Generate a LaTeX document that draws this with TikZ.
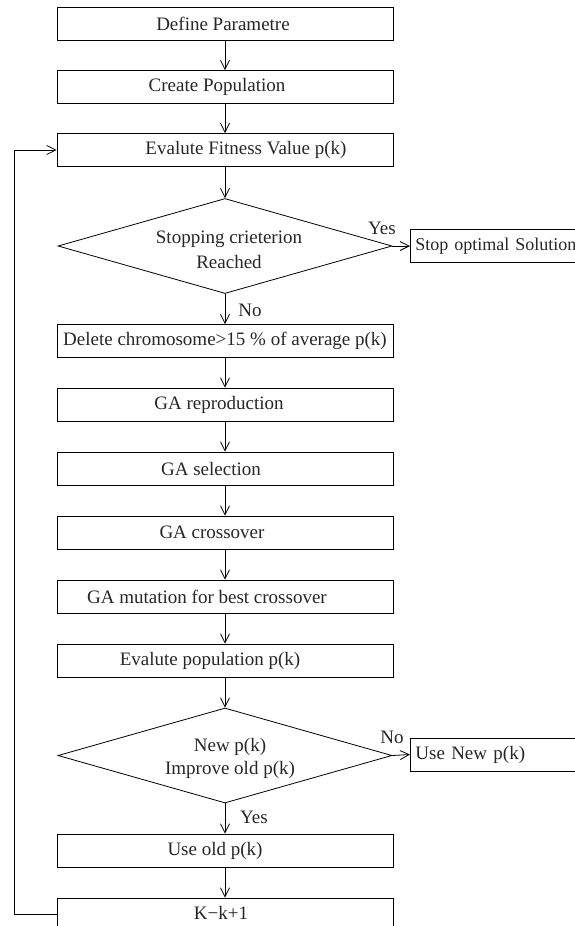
\documentclass[tikz,border=0pt]{standalone}
\usepackage{fontspec}
\setmainfont{Liberation Serif}
\usetikzlibrary{arrows.meta,shapes.geometric}

\tikzset{
  every node/.style={font=\fontsize{19}{25}\selectfont, text=black!85},
  box/.style={draw, line width=0.8pt, minimum width=336pt, minimum height=33pt, inner sep=0pt},
  sidebox/.style={draw, line width=0.8pt, anchor=west, minimum height=33pt, text width=180pt,
                  inner xsep=5pt, inner ysep=0pt, align=left},
  decision/.style={draw, diamond, line width=0.8pt, minimum width=334pt, minimum height=95pt, inner sep=0pt},
  txt/.style={inner sep=0pt},
  lbl/.style={inner sep=0pt},
  arr/.style={draw, line width=0.8pt, -{Straight Barb[length=9pt,width=9pt,line width=0.8pt]}},
}

\begin{document}
\begin{tikzpicture}[x=1pt, y=-1pt]
\useasboundingbox (0,0) rectangle (575,926);

% main column of process steps
\node[box, label={[txt,xshift=-2pt]center:Define Parametre}] (define) at (225,23.5) {};
\node[box, label={[txt,xshift=-8pt]center:Create Population}] (create) at (225,87) {};
\node[box, label={[txt,xshift=21pt]center:Evalute Fitness Value p(k)}] (evalfit) at (225,150) {};

\node[decision, label={[txt,align=center,xshift=4pt,yshift=-3.5pt]center:Stopping crieterion\\Reached}] (dia1) at (225,246) {};
\node[sidebox, font=\fontsize{18}{22}\selectfont] (stop) at (410,246) {Stop optimal Solution};

\node[box, label={[txt]center:Delete chromosome>15 \% of average p(k)}] (delete) at (225,341) {};
\node[box, label={[txt,xshift=-6pt]center:GA reproduction}] (repro) at (225,404.5) {};
\node[box, label={[txt,xshift=-14pt]center:GA selection}] (select) at (225,468.5) {};
\node[box, label={[txt,xshift=-13pt]center:GA crossover}] (cross) at (225,532.5) {};
\node[box, label={[txt,xshift=-18pt]center:GA mutation for best crossover}] (mutate) at (225,596.5) {};
\node[box, label={[txt,xshift=-15pt]center:Evalute population p(k)}] (evalpop) at (225,660.5) {};

\node[decision, label={[txt,align=center,xshift=5pt,yshift=-3pt,font=\fontsize{19}{23}\selectfont]center:New p(k)\\Improve old p(k)}] (dia2) at (225,755.5) {};
\node[sidebox] (usenew) at (410,754.5) {Use New p(k)};

\node[box, label={[txt,xshift=-10pt]center:Use old p(k)}] (useold) at (225,850.5) {};
\node[box, label={[txt,xshift=-4pt,yshift=2pt]center:K−k+1}] (kstep) at (225,914.5) {};

% branch labels
\node[lbl] (yes1) at (382,228) {Yes};
\node[lbl] (no1) at (250,310) {No};
\node[lbl] (no2) at (392,737) {No};
\node[lbl] (yes2) at (254,817) {Yes};

% connectors
\draw[arr] (define) -- (create);
\draw[arr] (create) -- (evalfit);
\draw[arr] (evalfit) -- (dia1);
\draw[arr] (dia1.east) -- (stop.west);
\draw[arr] (dia1.south) -- (delete);
\draw[arr] (delete) -- (repro);
\draw[arr] (repro) -- (select);
\draw[arr] (select) -- (cross);
\draw[arr] (cross) -- (mutate);
\draw[arr] (mutate) -- (evalpop);
\draw[arr] (evalpop) -- (dia2.north);
\draw[arr] (dia2.east) -- (usenew.west);
\draw[arr] (dia2.south) -- (useold);
\draw[arr] (useold) -- (kstep);

% loop back to fitness evaluation
\coordinate (fb) at (14,914.5);
\draw[arr] (kstep.west) -- (fb) |- (evalfit.west);
\end{tikzpicture}
\end{document}
